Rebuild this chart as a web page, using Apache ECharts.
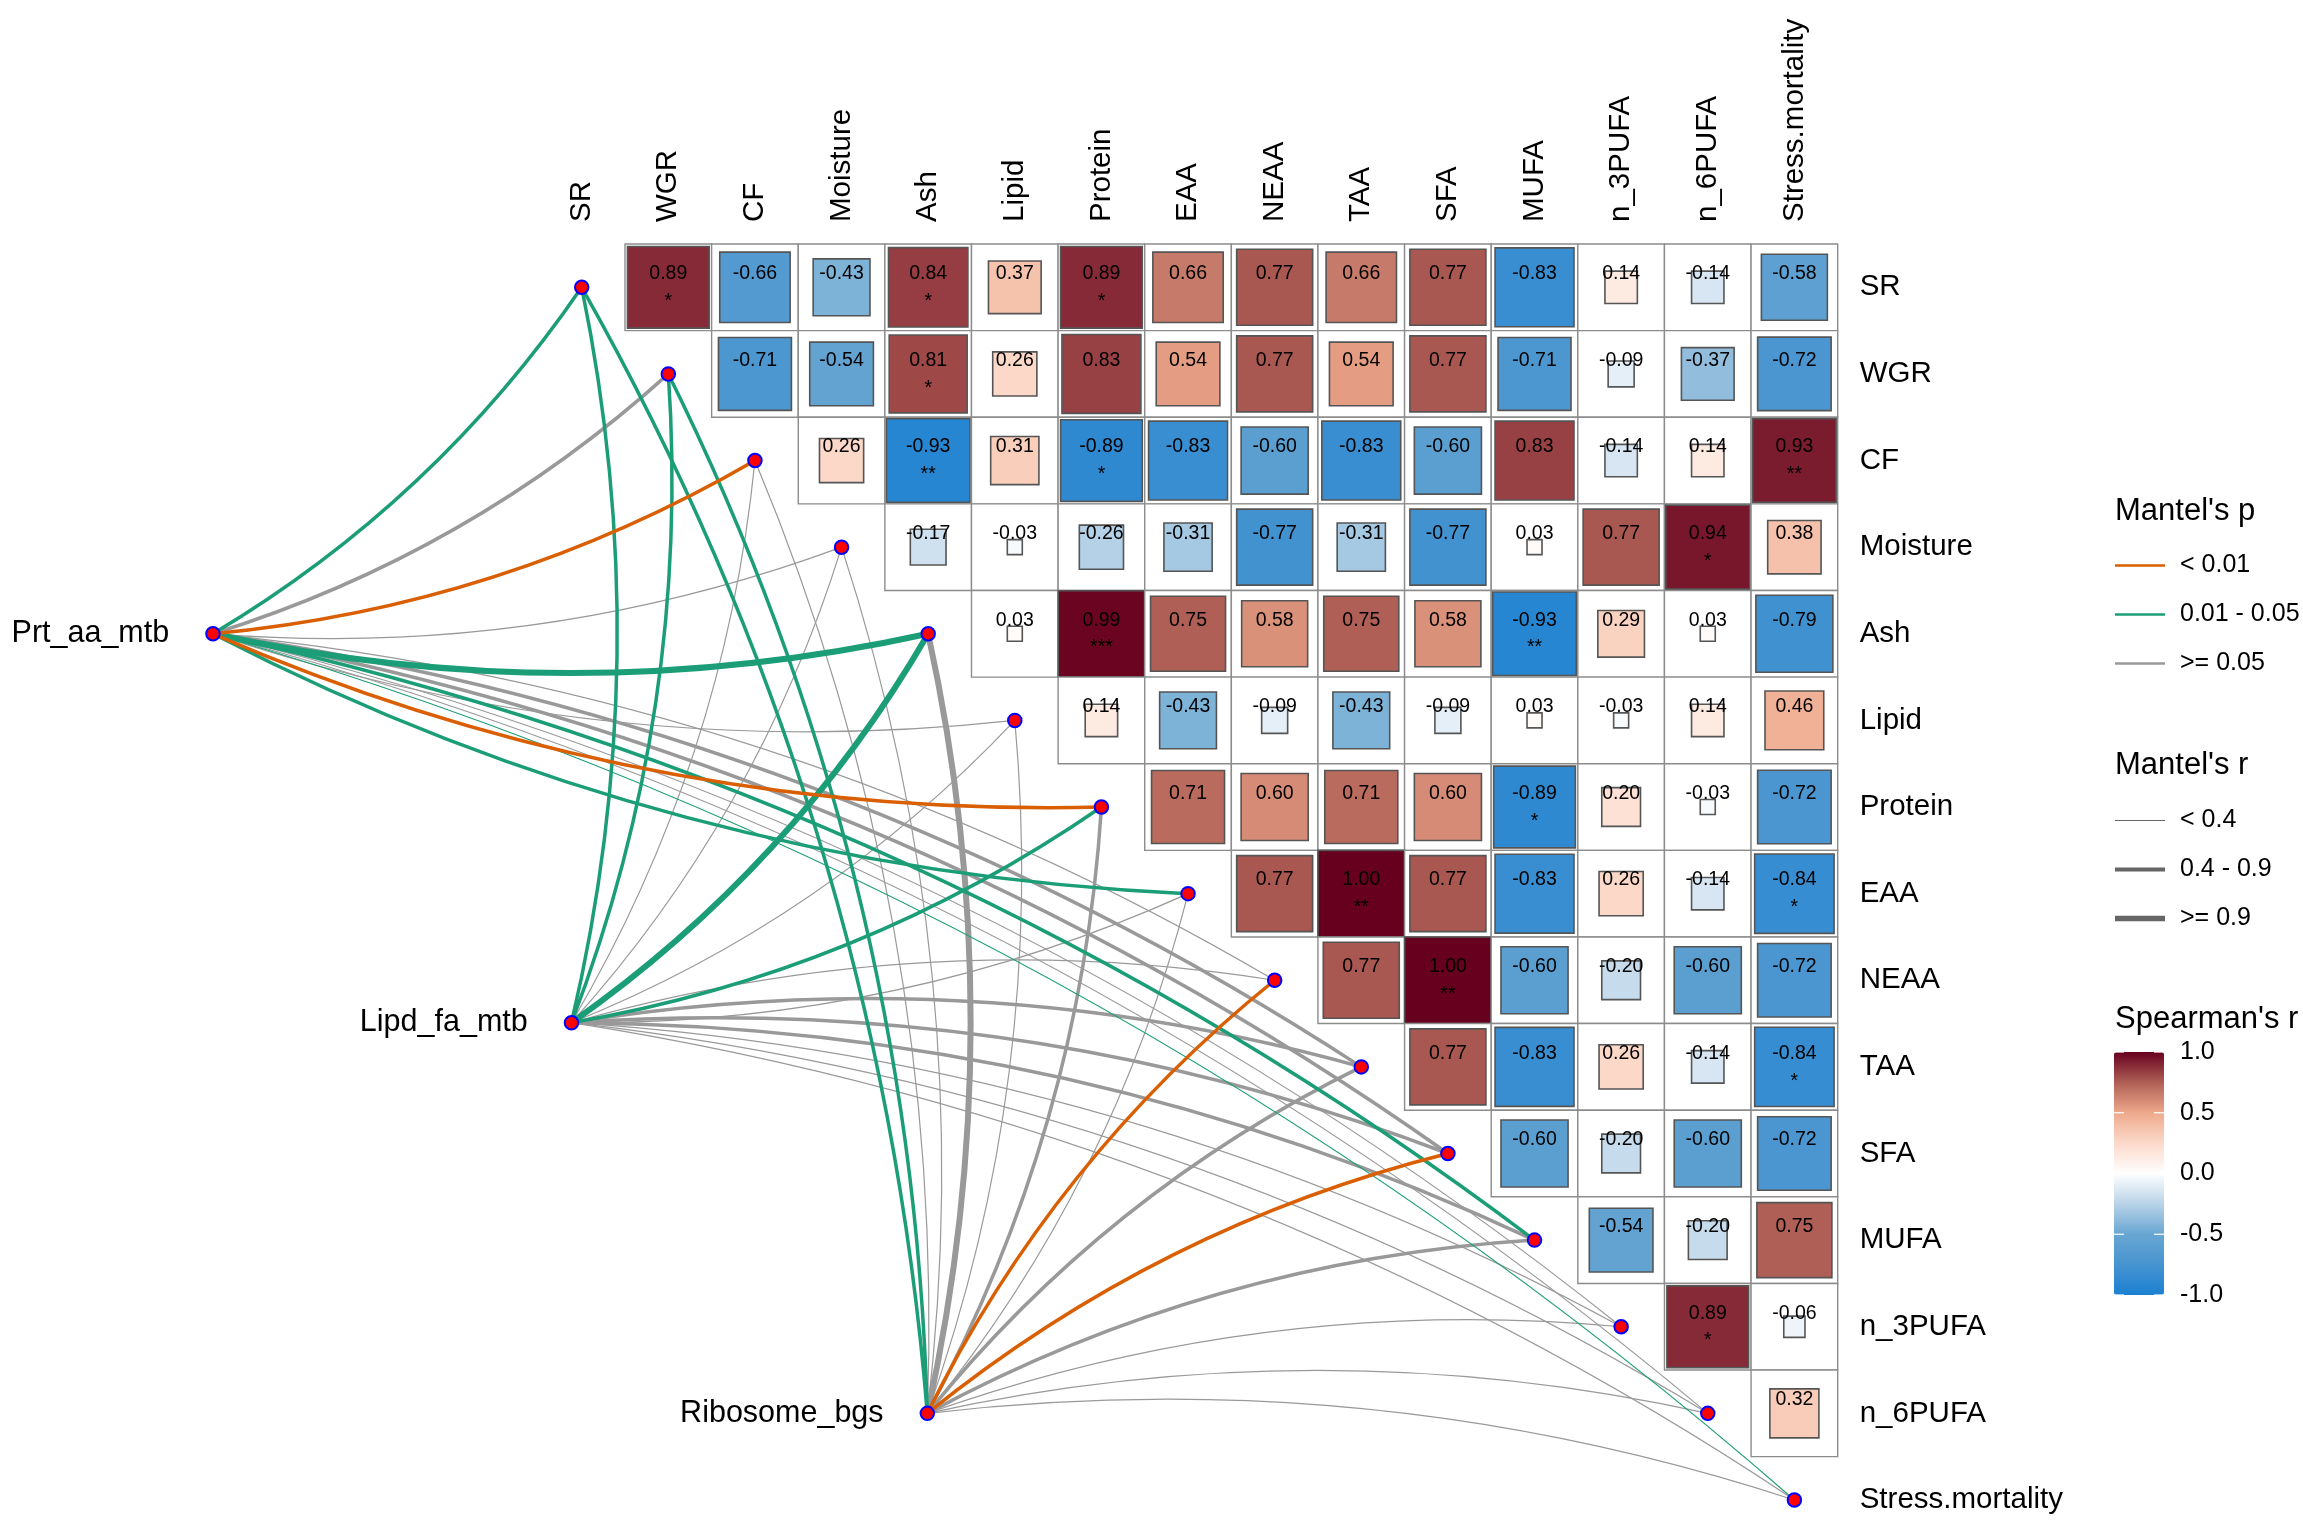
<!DOCTYPE html>
<html>
<head>
<meta charset="utf-8">
<script src="https://cdn.jsdelivr.net/npm/echarts@6/dist/echarts.min.js"></script>
<style>
html,body{margin:0;padding:0;background:#ffffff;}
#chart{width:2303px;height:1533px;}
</style>
</head>
<body>
<div id="chart"></div>
<script>
// ---------------- DATA ----------------
const varNames = ['SR','WGR','CF','Moisture','Ash','Lipid','Protein','EAA','NEAA','TAA','SFA','MUFA','n_3PUFA','n_6PUFA','Stress.mortality'];

// Spearman's r, upper triangle (each row lists the columns after the diagonal)
const rSR       = [0.89,-0.66,-0.43,0.84,0.37,0.89,0.66,0.77,0.66,0.77,-0.83,0.14,-0.14,-0.58];
const rWGR      = [-0.71,-0.54,0.81,0.26,0.83,0.54,0.77,0.54,0.77,-0.71,-0.09,-0.37,-0.72];
const rCF       = [0.26,-0.93,0.31,-0.89,-0.83,-0.60,-0.83,-0.60,0.83,-0.14,0.14,0.93];
const rMoisture = [-0.17,-0.03,-0.26,-0.31,-0.77,-0.31,-0.77,0.03,0.77,0.94,0.38];
const rAsh      = [0.03,0.99,0.75,0.58,0.75,0.58,-0.93,0.29,0.03,-0.79];
const rLipid    = [0.14,-0.43,-0.09,-0.43,-0.09,0.03,-0.03,0.14,0.46];
const rProtein  = [0.71,0.60,0.71,0.60,-0.89,0.20,-0.03,-0.72];
const rEAA      = [0.77,1.00,0.77,-0.83,0.26,-0.14,-0.84];
const rNEAA     = [0.77,1.00,-0.60,-0.20,-0.60,-0.72];
const rTAA      = [0.77,-0.83,0.26,-0.14,-0.84];
const rSFA      = [-0.60,-0.20,-0.60,-0.72];
const rMUFA     = [-0.54,-0.20,0.75];
const rN3       = [0.89,-0.06];
const rN6       = [0.32];

// significance marks [row, column, stars]
const sigMarks = [
  ['SR','WGR','*'],['SR','Ash','*'],['SR','Protein','*'],
  ['WGR','Ash','*'],
  ['CF','Ash','**'],['CF','Protein','*'],['CF','Stress.mortality','**'],
  ['Moisture','n_6PUFA','*'],
  ['Ash','Protein','***'],['Ash','MUFA','**'],
  ['Protein','MUFA','*'],
  ['EAA','TAA','**'],['EAA','Stress.mortality','*'],
  ['NEAA','SFA','**'],
  ['TAA','Stress.mortality','*'],
  ['n_3PUFA','n_6PUFA','*']
];

// Mantel test classes, per target variable (varNames order)
const envNames = ['Prt_aa_mtb','Lipd_fa_mtb','Ribosome_bgs'];
const pBins = ['< 0.01','0.01 - 0.05','>= 0.05'];   // index 0,1,2
const rBins = ['< 0.4','0.4 - 0.9','>= 0.9'];       // index 0,1,2
const prtP  = [1,2,0,2,1,2,0,1,2,2,2,1,2,2,1];
const prtR  = [1,1,1,0,2,0,1,1,0,1,1,1,0,0,0];
const lipdP = [1,1,2,2,1,2,1,2,2,2,2,2,2,2,2];
const lipdR = [1,1,0,0,2,0,1,0,0,1,1,1,0,0,0];
const riboP = [1,1,2,2,2,2,2,2,0,2,0,2,2,2,2];
const riboR = [1,1,0,0,2,0,1,0,1,1,1,1,0,0,0];

const colorTicks = [1.0, 0.5, 0.0, -0.5, -1.0];

// ---------------- LAYOUT / STYLE ----------------
const FONT = '"Liberation Sans", Arial, Helvetica, sans-serif';
const CELL = 86.62, X0 = 581.7, Y0 = 287.3;          // pixel centre of cell (0,0) and cell size
const envPos = [[-4.257, 4.0], [-0.118, 8.49], [3.99, 13.0]]; // env node positions in cell units
const P_COLORS = ['#D95F02', '#1B9E77', '#999999'];
const R_WIDTHS = [1.2, 3.5, 6];
const R_KEY_WIDTHS = [1.2, 3.8, 5.6];
const CURVE = 0.11;
const CB_LEFT = 2114, CB_TOP = 1052, CB_W = 50, CB_H = 243;
const KEY_LEFT = 2115, KEY_W = 50;

// ---------------- BUILD ----------------
const rowArrays = [rSR,rWGR,rCF,rMoisture,rAsh,rLipid,rProtein,rEAA,rNEAA,rTAA,rSFA,rMUFA,rN3,rN6];
const cellData = [];
const cellStars = [];
rowArrays.forEach((arr, i) => {
  arr.forEach((r, k) => {
    const j = i + 1 + k;
    cellData.push([j, i, r]);
    const m = sigMarks.find(s => s[0] === varNames[i] && s[1] === varNames[j]);
    cellStars.push(m ? m[2] : '');
  });
});

const envP = [prtP, lipdP, riboP];
const envR = [prtR, lipdR, riboR];
const drawOrder = [2, 1, 0];
const linkSeries = drawOrder.map(b => {
  const data = [];
  envNames.forEach((e, k) => {
    varNames.forEach((v, i) => {
      if (envP[k][i] !== b) return;
      data.push({
        coords: [envPos[k], [i, i]],
        lineStyle: { width: R_WIDTHS[envR[k][i]], curveness: i <= 7 ? -CURVE : CURVE }
      });
    });
  });
  return {
    type: 'lines', name: pBins[b], coordinateSystem: 'cartesian2d',
    xAxisIndex: 1, yAxisIndex: 1, polyline: false, clip: false, silent: true, z: 2,
    lineStyle: { color: P_COLORS[b], opacity: 1, cap: 'round' },
    data: data
  };
});
const rKeySeries = rBins.map(name => ({
  type: 'lines', name: name, coordinateSystem: 'cartesian2d', xAxisIndex: 1, yAxisIndex: 1,
  lineStyle: { color: '#666666', opacity: 1 }, data: []
}));

const cellSeries = {
  type: 'custom', name: 'cells', xAxisIndex: 0, yAxisIndex: 0, z: 3, silent: true,
  encode: { x: 0, y: 1 },
  data: cellData,
  renderItem: function (params, api) {
    const col = api.value(0), row = api.value(1), r = api.value(2);
    const c = api.coord([col, row]);
    const sz = api.size([1, 1]);
    const w = sz[0], h = sz[1];
    const s = Math.sqrt(Math.abs(r));
    const stars = cellStars[params.dataIndex];
    const children = [
      { type: 'rect', shape: { x: c[0] - w / 2, y: c[1] - h / 2, width: w, height: h },
        style: { fill: '#ffffff', stroke: '#8c8c8c', lineWidth: 1.4 } },
      { type: 'rect', shape: { x: c[0] - s * w / 2, y: c[1] - s * h / 2, width: s * w, height: s * h },
        style: { fill: api.visual('color'), stroke: '#555555', lineWidth: 1.6 } },
      { type: 'text', x: c[0], y: c[1] - 0.157 * h,
        style: { text: r.toFixed(2), align: 'center', verticalAlign: 'middle', fontSize: 19.5, fontFamily: FONT, fill: '#000000' } }
    ];
    if (stars) {
      children.push({ type: 'text', x: c[0], y: c[1] + 0.165 * h,
        style: { text: stars, align: 'center', verticalAlign: 'middle', fontSize: 19.5, fontFamily: FONT, fill: '#000000' } });
    }
    return { type: 'group', children: children };
  }
};

const nodeSeries = {
  type: 'scatter', name: 'nodes', xAxisIndex: 1, yAxisIndex: 1, z: 6, silent: true,
  symbol: 'circle', symbolSize: 13.5,
  itemStyle: { color: '#FF0000', borderColor: '#0000FF', borderWidth: 2, opacity: 1 },
  data: varNames.map((n, i) => [i, i])
};
const envSeries = {
  type: 'scatter', name: 'env', xAxisIndex: 1, yAxisIndex: 1, z: 6, silent: true,
  symbol: 'circle', symbolSize: 13.5,
  itemStyle: { color: '#FF0000', borderColor: '#0000FF', borderWidth: 2, opacity: 1 },
  label: { show: true, position: 'left', distance: 36, formatter: '{b}', fontSize: 30.5, fontFamily: FONT, color: '#000000' },
  data: envNames.map((n, k) => ({ name: n, value: envPos[k] }))
};

const series = [cellSeries].concat(linkSeries, rKeySeries, [nodeSeries, envSeries]);

const graphics = [
  { type: 'text', x: 2115, y: 511, style: { text: "Mantel's p", fontSize: 31, fontFamily: FONT, fill: '#000', verticalAlign: 'middle' } },
  { type: 'text', x: 2115, y: 765, style: { text: "Mantel's r", fontSize: 31, fontFamily: FONT, fill: '#000', verticalAlign: 'middle' } },
  { type: 'text', x: 2115, y: 1019, style: { text: "Spearman's r", fontSize: 31, fontFamily: FONT, fill: '#000', verticalAlign: 'middle' } }
];
colorTicks.forEach(v => {
  const y = CB_TOP + (1 - v) / 2 * CB_H;
  graphics.push({ type: 'text', x: 2180, y: y, z: 10,
    style: { text: v.toFixed(1), fontSize: 25, fontFamily: FONT, fill: '#000', verticalAlign: 'middle' } });
  graphics.push({ type: 'line', z: 10, shape: { x1: CB_LEFT, y1: y, x2: CB_LEFT + 10, y2: y }, style: { stroke: '#ffffff', lineWidth: 1.2 } });
  graphics.push({ type: 'line', z: 10, shape: { x1: CB_LEFT + CB_W - 10, y1: y, x2: CB_LEFT + CB_W, y2: y }, style: { stroke: '#ffffff', lineWidth: 1.2 } });
});

const legendText = { fontSize: 25, fontFamily: FONT, color: '#000', padding: [0, 0, 0, 10] };
const option = {
  backgroundColor: '#ffffff',
  animation: false,
  grid: [
    { left: X0 - CELL / 2, top: Y0 - CELL / 2, width: 15 * CELL, height: 15 * CELL, containLabel: false, outerBoundsMode: 'none' },
    { left: X0 - 6 * CELL, top: Y0 - CELL / 2, width: 20.5 * CELL, height: 15 * CELL, containLabel: false, outerBoundsMode: 'none' }
  ],
  xAxis: [
    { type: 'category', gridIndex: 0, position: 'top', data: varNames,
      axisLine: { show: false }, axisTick: { show: false }, splitLine: { show: false },
      axisLabel: { rotate: -90, interval: 0, margin: 22, fontSize: 29.5, fontFamily: FONT, color: '#000' } },
    { type: 'value', gridIndex: 1, min: -6, max: 14.5, show: false }
  ],
  yAxis: [
    { type: 'category', gridIndex: 0, position: 'right', inverse: true, data: varNames,
      axisLine: { show: false }, axisTick: { show: false }, splitLine: { show: false },
      axisLabel: { interval: 0, margin: 22, fontSize: 29.5, fontFamily: FONT, color: '#000' } },
    { type: 'value', gridIndex: 1, min: -0.5, max: 14.5, inverse: true, show: false }
  ],
  visualMap: {
    type: 'continuous', seriesIndex: 0, dimension: 2, min: -1, max: 1,
    calculable: false, hoverLink: false, padding: 0,
    left: CB_LEFT, top: CB_TOP, itemWidth: CB_W, itemHeight: CB_H,
    inRange: { color: ['#1B80D2', '#4794D0', '#68A6D2', '#B8D3E8', '#FFFFFF', '#FCDACA', '#EEA98C', '#AF5F55', '#67001F'] }
  },
  legend: [
    { data: pBins, orient: 'vertical', left: KEY_LEFT, top: 553, itemWidth: KEY_W, itemHeight: 2.6, itemGap: 24,
      icon: 'rect', selectedMode: false, padding: 0, textStyle: legendText },
    { data: [rBins[0]], orient: 'vertical', left: KEY_LEFT, top: 808, itemWidth: KEY_W, itemHeight: R_KEY_WIDTHS[0],
      icon: 'rect', selectedMode: false, padding: 0, textStyle: legendText },
    { data: [rBins[1]], orient: 'vertical', left: KEY_LEFT, top: 857, itemWidth: KEY_W, itemHeight: R_KEY_WIDTHS[1],
      icon: 'rect', selectedMode: false, padding: 0, textStyle: legendText },
    { data: [rBins[2]], orient: 'vertical', left: KEY_LEFT, top: 906, itemWidth: KEY_W, itemHeight: R_KEY_WIDTHS[2],
      icon: 'rect', selectedMode: false, padding: 0, textStyle: legendText }
  ],
  graphic: graphics,
  series: series
};

const chart = echarts.init(document.getElementById('chart'), null, { renderer: 'canvas' });
chart.setOption(option);
</script>
</body>
</html>
